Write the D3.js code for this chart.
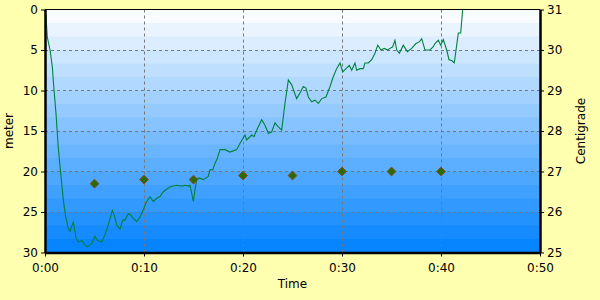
<!DOCTYPE html>
<html><head><meta charset="utf-8">
<script src="https://cdn.jsdelivr.net/npm/d3@7"></script>
<style>
html,body{margin:0;padding:0;background:#FFFFB0;}
svg text{font-family:"DejaVu Sans",sans-serif;font-size:12px;fill:#000;}
</style></head>
<body><svg id="c" width="600" height="300"></svg>
<script>
// time in minutes
const depthTime = [0,0.10,0.23,0.51,0.74,0.91,1.11,1.34,1.52,1.69,1.85,2.09,2.35,2.53,2.86,3.13,3.36,3.71,4.04,4.27,4.72,5.05,5.28,5.73,6.06,6.39,6.80,7.00,7.24,7.58,7.85,8.08,8.41,8.69,8.92,9.26,9.60,10.00,10.27,10.61,10.94,11.28,11.62,11.95,12.29,12.63,12.96,13.30,13.81,14.14,14.47,14.65,14.82,14.98,15.15,15.32,15.56,15.99,16.49,16.67,16.94,17.17,17.40,17.68,18.18,18.69,19.36,19.70,20.20,20.37,20.88,21.11,21.38,21.89,22.22,22.56,22.90,23.23,23.57,23.91,24.24,24.58,24.92,25.42,25.76,26.09,26.36,26.60,26.94,27.27,27.61,27.95,28.38,28.79,29.12,29.46,29.80,30.07,30.40,30.74,30.98,31.31,31.48,31.82,32.15,32.32,32.66,33.00,33.33,33.61,33.94,34.27,34.62,34.85,35.12,35.35,35.53,35.79,36.19,36.60,37.04,37.47,37.81,38.05,38.38,38.89,39.22,39.39,39.73,39.97,40.23,40.58,40.81,41.08,41.34,41.52,41.75,41.99,42.19];
const depthMeters = [0,0.9,3.4,5.0,7.1,9.9,12.8,17.0,19.4,21.5,23.5,25.6,27.0,27.4,26.2,28.2,28.7,28.5,29.1,29.3,28.9,28.0,28.5,28.7,27.8,26.6,24.8,25.4,26.6,27.1,26.0,26.0,25.2,25.4,25.8,26.2,25.6,24.5,23.7,23.1,23.7,23.3,23.1,22.5,22.2,21.9,21.8,21.7,21.8,21.7,21.8,21.7,22.7,23.7,22.3,21.0,20.8,21.0,20.6,19.8,19.8,19.0,18.4,17.3,17.3,17.6,17.3,16.5,15.5,16.1,15.5,15.7,14.9,13.6,14.3,15.3,15.1,14.0,14.5,14.9,11.6,8.7,9.3,11.0,10.3,9.5,9.7,10.8,11.4,11.2,11.6,11.0,10.8,9.5,8.3,7.3,6.6,7.7,7.3,6.9,7.5,6.6,7.5,7.3,7.3,6.6,6.6,6.2,5.4,4.4,5.0,4.8,5.0,4.8,4.6,3.8,5.0,5.4,4.4,5.2,4.8,4.2,4.0,3.6,5.0,5.0,4.6,4.2,3.8,4.4,3.7,5.0,6.2,6.3,6.6,5.0,2.9,2.9,0];
const tempTime = [5,10,15,20,25,30,35,40];
const tempC = [26.7,26.8,26.8,26.9,26.9,27.0,27.0,27.0];
const timeTicks = [0,10,20,30,40,50];
const timeTickLabels = ["0:00","0:10","0:20","0:30","0:40","0:50"];
const depthTicks = [0,5,10,15,20,25,30];
const tempTicks = [25,26,27,28,29,30,31];

const L=45, R=540, T=9.5, B=252.5;
const svg = d3.select("#c");
const x = d3.scaleLinear().domain([0,50]).range([L,R]);
const yD = d3.scaleLinear().domain([0,30]).range([T,B]);
const yT = d3.scaleLinear().domain([25,31]).range([B,T]);

// gradient bands
const nb = 18, bh = (B-T)/nb;
const col = d3.interpolateRgb("#ffffff","#0080ff");
svg.append("g").selectAll("rect").data(d3.range(nb)).join("rect")
  .attr("x",L).attr("width",R-L)
  .attr("y",i=>T+i*bh).attr("height",bh+0.5)
  .attr("fill",i=>col(Math.min(1,(i+0.5)/nb*1.0)));

// grid
const g = svg.append("g").attr("stroke","#777").attr("stroke-dasharray","3,3").attr("stroke-width",1);
g.selectAll("line.v").data(timeTicks.filter(t=>t>0&&t<50)).join("line")
  .attr("x1",d=>Math.round(x(d))+0.5).attr("x2",d=>Math.round(x(d))+0.5).attr("y1",T).attr("y2",B);
g.selectAll("line.h").data(depthTicks.filter(t=>t>0&&t<30)).join("line")
  .attr("y1",d=>Math.round(yD(d))+0.5).attr("y2",d=>Math.round(yD(d))+0.5).attr("x1",L).attr("x2",R);

// depth line
svg.append("path").datum(depthTime.map((t,i)=>[t,depthMeters[i]]))
  .attr("fill","none").attr("stroke","#00803a").attr("stroke-width",1.1)
  .attr("d",d3.line().x(d=>x(d[0])).y(d=>yD(d[1])));

// temperature diamonds
svg.append("g").selectAll("path").data(tempTime.map((t,i)=>[t,tempC[i]])).join("path")
  .attr("d",d3.symbol().type(d3.symbolDiamond2).size(50))
  .attr("transform",d=>`translate(${x(d[0])},${yT(d[1])})`)
  .attr("fill","#2f6a00").attr("stroke","#8a4b2a").attr("stroke-width",1);

// frame
svg.append("line").attr("x1",L).attr("x2",R).attr("y1",T).attr("y2",T).attr("stroke","#000").attr("stroke-width",1);

// axes
const ax = svg.append("g").attr("transform",`translate(0,${B})`)
  .call(d3.axisBottom(x).tickValues(timeTicks).tickFormat((d,i)=>timeTickLabels[i]).tickSize(4).tickSizeOuter(0));
const ay = svg.append("g").attr("transform",`translate(${L},0)`)
  .call(d3.axisLeft(yD).tickValues(depthTicks).tickFormat(d3.format("d")).tickSize(4).tickSizeOuter(0));
const ar = svg.append("g").attr("transform",`translate(${R},0)`)
  .call(d3.axisRight(yT).tickValues(tempTicks).tickFormat(d3.format("d")).tickSize(4).tickSizeOuter(0));
[ax,ay,ar].forEach(a=>{
  a.selectAll("text").style("font-family","DejaVu Sans").style("font-size","12px").attr("fill","#000");
  a.select(".domain").attr("stroke","#000").attr("stroke-width",2.5);
  a.selectAll(".tick line").attr("stroke","#000");
});
ax.selectAll("text").attr("dy","1.05em");

// titles
svg.append("text").attr("x",(L+R)/2).attr("y",288).attr("text-anchor","middle").text("Time");
svg.append("text").attr("transform",`translate(13,${(T+B)/2}) rotate(-90)`).attr("text-anchor","middle").text("meter");
svg.append("text").attr("transform",`translate(585,${(T+B)/2}) rotate(-90)`).attr("text-anchor","middle").text("Centigrade");
</script></body></html>
